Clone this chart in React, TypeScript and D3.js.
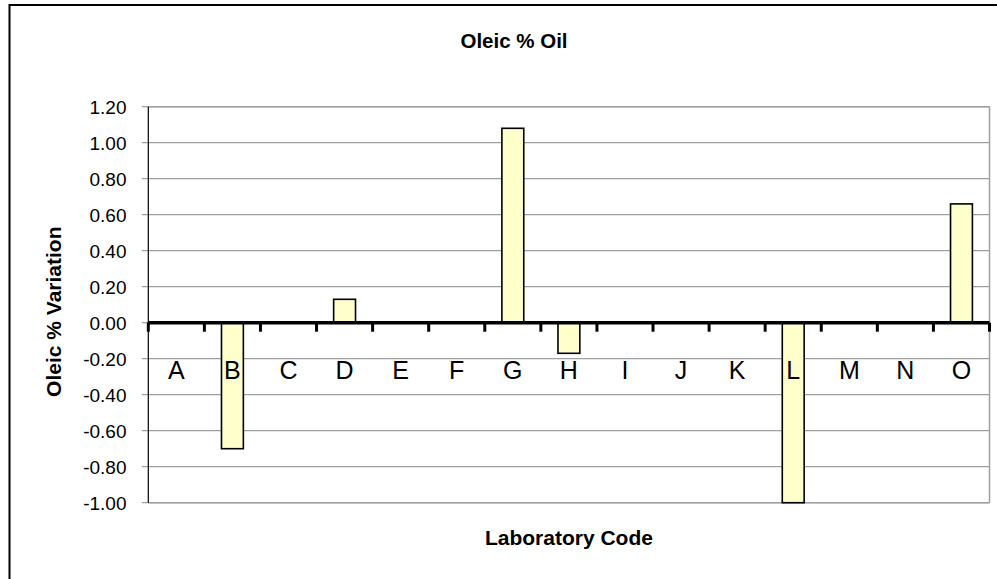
import React from "react";
import * as d3 from "d3";

const categories = ["A","B","C","D","E","F","G","H","I","J","K","L","M","N","O"];
const values: (number | null)[] = [null,-0.70,null,0.13,null,null,1.08,-0.17,null,null,null,-1.00,null,null,0.66];
const yTicks = [1.2,1.0,0.8,0.6,0.4,0.2,0,-0.2,-0.4,-0.6,-0.8,-1.0];
const title = "Oleic % Oil";
const xTitle = "Laboratory Code";
const yTitle = "Oleic % Variation";

const W = 997, H = 579;
const left = 148.3, right = 989.5, top = 106.7, bottom = 502.7;
const FONT = "Arial, 'Liberation Sans', sans-serif";

export default function App() {
  const x = d3.scaleBand<string>().domain(categories).range([left, right]).padding(0);
  const y = d3.scaleLinear().domain([-1, 1.2]).range([bottom, top]);
  const step = x.step();
  const bw = step * 0.39;
  const y0 = y(0);
  const boundaries = d3.range(categories.length + 1).map(i => left + i * step);

  return (
    <svg width={W} height={H} style={{ position: "absolute", left: 0, top: 0, background: "#fff" }} fontFamily={FONT}>
      <rect x={0} y={0} width={W} height={H} fill="#fff" />
      <rect x={9.5} y={5} width={1030} height={640} fill="none" stroke="#000" strokeWidth={2} />
      {/* gridlines */}
      {yTicks.map(t => (
        <line key={"g" + t} x1={left - 6.5} x2={right} y1={y(t)} y2={y(t)} stroke="#a0a0a0" strokeWidth={1.2} />
      ))}
      {/* plot border */}
      <line x1={right} x2={right} y1={top} y2={bottom} stroke="#a0a0a0" strokeWidth={1.5} />
      <line x1={left} x2={right} y1={top} y2={top} stroke="#a0a0a0" strokeWidth={1.5} />
      <line x1={left} x2={right} y1={bottom} y2={bottom} stroke="#a0a0a0" strokeWidth={1.5} />
      {/* y tick labels */}
      {yTicks.map(t => (
        <text key={"t" + t} x={126.5} y={y(t)} dy="0.36em" textAnchor="end" fontSize={19} fill="#000">
          {t.toFixed(2)}
        </text>
      ))}
      {/* bars */}
      {categories.map((c, i) => {
        const v = values[i];
        if (v == null) return null;
        const cx = (x(c) as number) + step / 2;
        const yt = Math.min(y(v), y0);
        const h = Math.abs(y(v) - y0);
        return <rect key={"b" + c} x={cx - bw / 2} y={yt} width={bw} height={h} fill="#FFFFCC" stroke="#000" strokeWidth={1.6} />;
      })}
      {/* left axis */}
      <line x1={left} x2={left} y1={top} y2={bottom} stroke="#000" strokeWidth={1.2} />
      {/* zero axis */}
      <line x1={left} x2={right} y1={y0} y2={y0} stroke="#000" strokeWidth={3.5} />
      {boundaries.map((bx, i) => (
        <line key={"k" + i} x1={bx} x2={bx} y1={y0} y2={y0 + 9} stroke="#000" strokeWidth={3} />
      ))}
      {/* category labels */}
      {categories.map(c => (
        <text key={"c" + c} x={(x(c) as number) + step / 2} y={378.5} textAnchor="middle" fontSize={25} fill="#000">
          {c}
        </text>
      ))}
      {/* titles */}
      <text x={514} y={48} textAnchor="middle" fontSize={20.5} fontWeight="bold">{title}</text>
      <text x={(left + right) / 2} y={545} textAnchor="middle" fontSize={21} fontWeight="bold">{xTitle}</text>
      <text transform={`translate(61,${(top + bottom) / 2 + 7}) rotate(-90)`} textAnchor="middle" fontSize={21} fontWeight="bold">{yTitle}</text>
    </svg>
  );
}
